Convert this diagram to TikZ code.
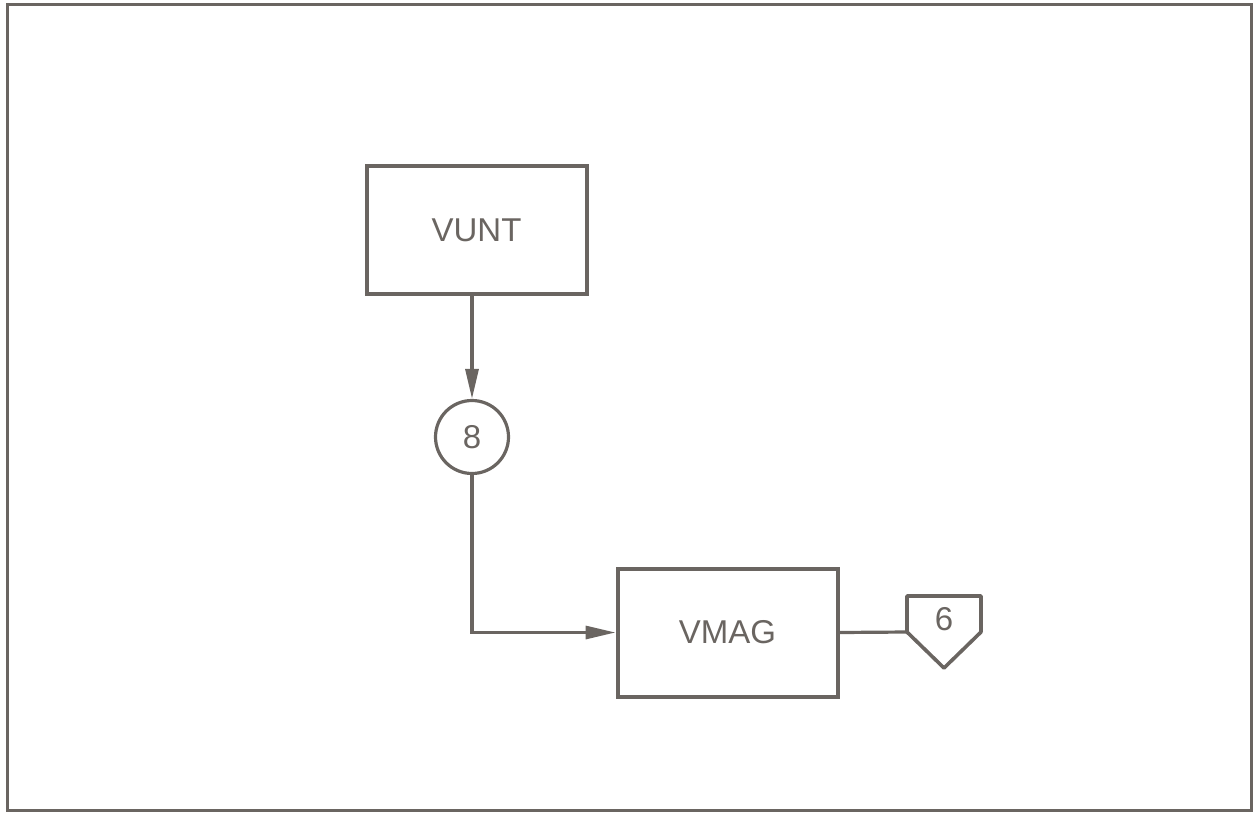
\documentclass[tikz,border=0pt]{standalone}
\usepackage{fontspec}
\setmainfont{Liberation Sans}
\usetikzlibrary{arrows.meta}
\definecolor{ink}{HTML}{6A6561}
\begin{document}
\begin{tikzpicture}[x=0.5pt,y=-0.5pt,
  lbl/.style={text=ink,font=\fontsize{16.5}{20}\selectfont,inner sep=0pt},
  blk/.style={lbl,draw=ink,line width=2pt,minimum width=110pt,minimum height=64pt},
  conn/.style={draw=ink,line width=1.6pt},
  arr/.style={conn,-{Triangle[length=15pt,width=6.5pt]}}]
\useasboundingbox (0,0) rectangle (1253,814);
\draw[ink,line width=1.5pt] (7,4) rectangle (1251,810);
% blocks
\node[blk] (vunt) at (476.5,230) {VUNT};
\node[blk] (vmag) at (727.5,632.5) {VMAG};
\node[lbl,circle,draw=ink,line width=1.6pt,minimum size=36.5pt] (c8) at (472,437) {8};
% offpage connector
\node[lbl] (n6) at (944,619) {6};
\coordinate (p6) at (907,632);
\draw[conn,line width=1.8pt,line join=round] (p6) -- ++(0,-36) -- ++(74,0) -- ++(0,36) -- ++(-37,36) -- cycle;
% flow
\draw[arr] (vunt.south -| c8) -- (c8.north);
\draw[arr] (c8.south) |- (vmag.west);
\draw[conn] (vmag.east) -- (p6);
\end{tikzpicture}
\end{document}
